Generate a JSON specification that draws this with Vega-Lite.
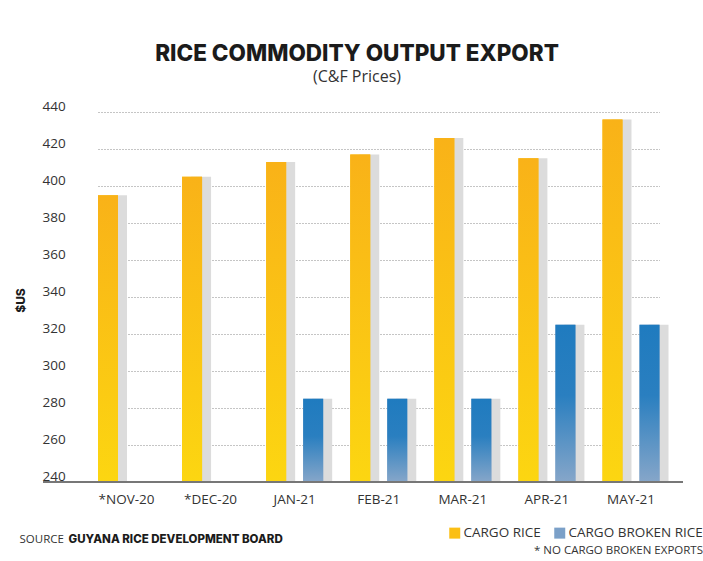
{
  "$schema": "https://vega.github.io/schema/vega-lite/v6.json",
  "width": 640,
  "height": 370,
  "autosize": {"type": "none"},
  "padding": {"left": 43, "top": 112, "right": 20, "bottom": 79},
  "background": "white",
  "config": {"font": "Open Sans", "view": {"stroke": null}},
  "title": {
    "text": "RICE COMMODITY OUTPUT EXPORT",
    "subtitle": "(C&F Prices)",
    "anchor": "middle",
    "frame": "group",
    "dx": -6,
    "offset": 14,
    "font": "Inter",
    "fontSize": 22.5,
    "fontWeight": 800,
    "color": "#1b1b1b",
    "subtitleFont": "Open Sans",
    "subtitleFontSize": 16,
    "subtitleColor": "#333333",
    "subtitlePadding": 4
  },
  "data": {
    "values": [
      {"month": "*NOV-20", "series": "CARGO RICE", "price": 395},
      {"month": "*DEC-20", "series": "CARGO RICE", "price": 405},
      {"month": "JAN-21", "series": "CARGO RICE", "price": 413},
      {"month": "JAN-21", "series": "CARGO BROKEN RICE", "price": 285},
      {"month": "FEB-21", "series": "CARGO RICE", "price": 417},
      {"month": "FEB-21", "series": "CARGO BROKEN RICE", "price": 285},
      {"month": "MAR-21", "series": "CARGO RICE", "price": 426},
      {"month": "MAR-21", "series": "CARGO BROKEN RICE", "price": 285},
      {"month": "APR-21", "series": "CARGO RICE", "price": 415},
      {"month": "APR-21", "series": "CARGO BROKEN RICE", "price": 325},
      {"month": "MAY-21", "series": "CARGO RICE", "price": 436},
      {"month": "MAY-21", "series": "CARGO BROKEN RICE", "price": 325}
    ]
  },
  "layer": [
    {
      "mark": {"type": "bar", "fill": "#dcdcdc"},
      "encoding": {
        "x": {"field": "month", "type": "nominal", "sort": null, "scale": {"domain": ["*NOV-20", "*DEC-20", "JAN-21", "FEB-21", "MAR-21", "APR-21", "MAY-21"], "range": [64, 625.5], "paddingInner": 0.322, "paddingOuter": 0}, "axis": null},
        "xOffset": {"field": "series", "type": "nominal"},
        "y": {"field": "price", "type": "quantitative", "scale": {"domain": [240, 440], "nice": false, "zero": false}, "axis": null},
        "y2": {"datum": 240}
      }
    },
    {
      "mark": {"type": "bar"},
      "encoding": {
        "x": {
          "field": "month",
          "type": "nominal",
          "sort": null,
          "scale": {"domain": ["*NOV-20", "*DEC-20", "JAN-21", "FEB-21", "MAR-21", "APR-21", "MAY-21"], "range": [55, 616.5], "paddingInner": 0.322, "paddingOuter": 0},
          "axis": {
            "domain": false,
            "ticks": false,
            "labelAngle": 0,
            "labelPadding": 10,
            "labelFontSize": 13.5,
            "labelColor": "#333333",
            "title": "SOURCE",
            "titleAnchor": "start",
            "titleAlign": "left",
            "titleBaseline": "middle",
            "titleX": -24,
            "titleY": 57,
            "titleFontSize": 11.5,
            "titleFontWeight": "normal",
            "titleColor": "#333333"
          }
        },
        "xOffset": {
          "field": "series",
          "type": "nominal",
          "scale": {"domain": ["CARGO RICE", "CARGO BROKEN RICE"], "paddingInner": 0.46, "paddingOuter": 0}
        },
        "y": {
          "field": "price",
          "type": "quantitative",
          "scale": {"domain": [240, 440], "nice": false, "zero": false},
          "axis": {
            "values": [240, 260, 280, 300, 320, 340, 360, 380, 400, 420, 440],
            "domain": false,
            "ticks": false,
            "tickSize": 0,
            "labelAlign": "left",
            "labelBaseline": "alphabetic",
            "labelPadding": 1,
            "labelOffset": -2,
            "labelFlush": false,
            "labelBound": false,
            "labelOverlap": false,
            "labelFontSize": 13.5,
            "labelColor": "#333333",
            "grid": true,
            "gridColor": "#8a8a8a",
            "gridDash": [1, 2],
            "gridWidth": 1,
            "title": "$US",
            "titleAngle": -90,
            "titleX": -23,
            "titleY": 188,
            "titleAlign": "center",
            "titleBaseline": "middle",
            "titleFont": "Inter",
            "titleFontSize": 12,
            "titleFontWeight": 800,
            "titleColor": "#1b1b1b"
          }
        },
        "y2": {"datum": 240},
        "color": {
          "field": "series",
          "type": "nominal",
          "scale": {
            "domain": ["CARGO RICE", "CARGO BROKEN RICE"],
            "range": ["#fbbf15", "#7ba0c8"]
          },
          "legend": {
            "orient": "none",
            "legendX": 405,
            "legendY": 414,
            "direction": "horizontal",
            "symbolType": "square",
            "symbolSize": 121,
            "symbolStrokeWidth": 0,
            "symbolOpacity": 1,
            "labelFontSize": 13.5,
            "labelColor": "#333333",
            "labelOffset": 2,
            "columnPadding": 12,
            "title": "* NO CARGO BROKEN EXPORTS",
            "titleOrient": "bottom",
            "titleAnchor": "end",
            "titleFontSize": 11.5,
            "titleFontWeight": "normal",
            "titleColor": "#333333",
            "titlePadding": 5
          }
        }
      }
    },
    {
      "transform": [{"filter": "datum.series === 'CARGO RICE'"}],
      "mark": {
        "type": "bar",
        "fill": {
          "gradient": "linear",
          "x1": 0, "y1": 0, "x2": 0, "y2": 1,
          "stops": [{"offset": 0, "color": "#f9b218"}, {"offset": 1, "color": "#fcd611"}]
        }
      },
      "encoding": {
        "x": {"field": "month", "type": "nominal", "sort": null, "scale": {"domain": ["*NOV-20", "*DEC-20", "JAN-21", "FEB-21", "MAR-21", "APR-21", "MAY-21"], "range": [55, 616.5], "paddingInner": 0.322, "paddingOuter": 0}, "axis": null},
        "xOffset": {"field": "series", "type": "nominal"},
        "y": {"field": "price", "type": "quantitative", "scale": {"domain": [240, 440], "nice": false, "zero": false}, "axis": null},
        "y2": {"datum": 240}
      }
    },
    {
      "transform": [{"filter": "datum.series === 'CARGO BROKEN RICE'"}],
      "mark": {
        "type": "bar",
        "fill": {
          "gradient": "linear",
          "x1": 0, "y1": 0, "x2": 0, "y2": 1,
          "stops": [{"offset": 0, "color": "#1f7bbf"}, {"offset": 0.45, "color": "#2a7fc0"}, {"offset": 1, "color": "#86a6c9"}]
        }
      },
      "encoding": {
        "x": {"field": "month", "type": "nominal", "sort": null, "scale": {"domain": ["*NOV-20", "*DEC-20", "JAN-21", "FEB-21", "MAR-21", "APR-21", "MAY-21"], "range": [55, 616.5], "paddingInner": 0.322, "paddingOuter": 0}, "axis": null},
        "xOffset": {"field": "series", "type": "nominal"},
        "y": {"field": "price", "type": "quantitative", "scale": {"domain": [240, 440], "nice": false, "zero": false}, "axis": null},
        "y2": {"datum": 240}
      }
    },
    {
      "mark": {"type": "rule", "color": "#777777", "strokeWidth": 1.5},
      "encoding": {
        "y": {
          "datum": 240,
          "type": "quantitative",
          "scale": {"domain": [240, 440], "nice": false, "zero": false},
          "axis": {
            "orient": "right",
            "domain": false,
            "ticks": false,
            "labels": false,
            "grid": false,
            "title": "GUYANA RICE DEVELOPMENT BOARD",
            "titleAngle": 0,
            "titleAlign": "left",
            "titleBaseline": "middle",
            "titleX": -615,
            "titleY": 427,
            "titleFont": "Inter",
            "titleFontSize": 11.5,
            "titleFontWeight": 800,
            "titleColor": "#1b1b1b"
          }
        }
      }
    }
  ],
  "resolve": {"scale": {"y": "independent", "x": "independent"}, "axis": {"y": "independent", "x": "independent"}}
}
